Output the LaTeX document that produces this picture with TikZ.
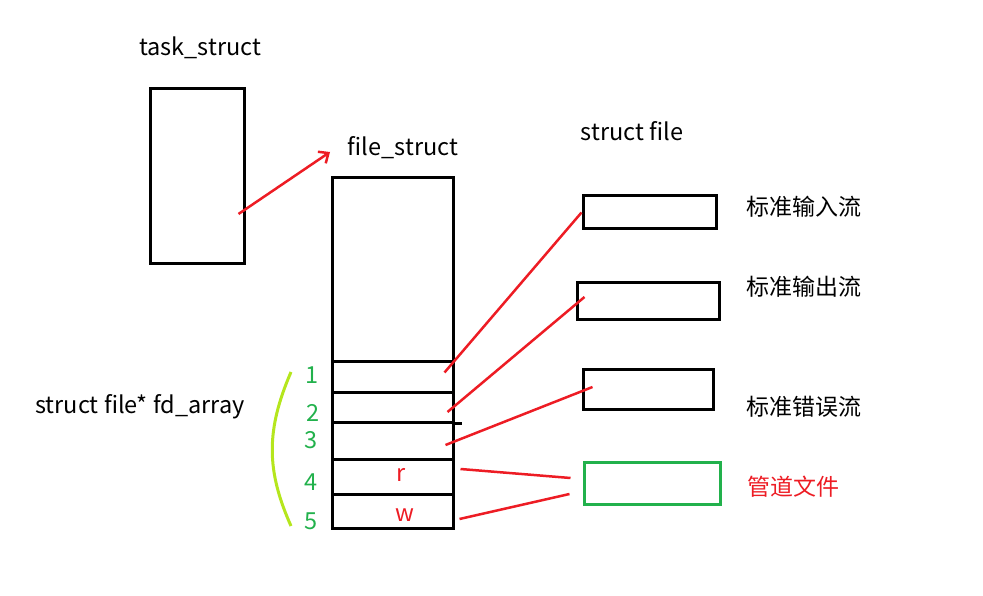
\documentclass[tikz,border=0pt]{standalone}
\usepackage{fontspec}
\setmainfont{Noto Sans CJK SC}
\usepackage{xcolor}
\usetikzlibrary{arrows.meta,positioning,calc}
\definecolor{penred}{RGB}{237,28,36}
\definecolor{pengreen}{RGB}{34,177,76}
\definecolor{penlime}{RGB}{181,230,29}

\begin{document}
\begin{tikzpicture}[
            x=1pt, y=-1pt,
            box/.style={rectangle, draw, line width=3pt, inner sep=0pt},
            slot/.style={box, minimum width=121pt},
            txt/.style={inner sep=0pt, font=\fontsize{23.5}{27}\selectfont},
            cjk/.style={inner sep=0pt, font=\fontsize{23}{27}\selectfont},
            num/.style={txt, text=pengreen},
            redline/.style={penred, line width=2.5pt}
        ]
        \useasboundingbox (0,0) rectangle (983,596);

        % task_struct
        \node[txt] (tasklbl) at (200,48) {task\_struct};
        \node[box, minimum width=94pt, minimum height=175pt] (task) at (197,176.5) {};

        % file_struct with the fd slots
        \node[txt] (fslbl) at (403,148) {file\_struct};
        \node[slot, minimum height=183pt] (fstop) at (392.5,269.5) {};
        \node[slot, minimum height=31pt] (fd1) at (392.5,376.5) {};
        \node[slot, minimum height=30pt] (fd2) at (392.5,407) {};
        \node[slot, minimum height=37pt] (fd3) at (392.5,440.5) {};
        \node[slot, minimum height=35pt] (fd4) at (392.5,476.5) {};
        \node[slot, minimum height=34pt] (fd5) at (392.5,511) {};
        \draw[line width=3pt] (fd2.south east) -- ++(7,0);
        \node[txt, text=penred] (rd) at (401,475) {r};
        \node[txt, text=penred] (wr) at (405,515) {w};

        % fd numbers
        \node[num] (n1) at (312,375) {1};
        \node[num] (n2) at (313,413) {2};
        \node[num] (n3) at (311,440) {3};
        \node[num] (n4) at (311,482) {4};
        \node[num] (n5) at (311,521) {5};
        \draw[penlime, line width=3pt] (291,372) .. controls (266,430) and (266,470) .. (291,526);
        \node[txt] (fdlbl) at (140,407) {struct file* fd\_array};

        % struct file objects
        \node[txt] (sflbl) at (632,131) {struct file};
        \node[box, minimum width=133pt, minimum height=33pt] (sin) at (649.5,212.5) {};
        \node[box, minimum width=142pt, minimum height=36pt] (sout) at (648,301) {};
        \node[box, minimum width=130pt, minimum height=40pt] (serr) at (648,389) {};
        \node[box, draw=pengreen, minimum width=136pt, minimum height=42pt] (pipe) at (652,483) {};
        \node[cjk] (inlbl) at (804,207) {标准输入流};
        \node[cjk] (outlbl) at (804,287) {标准输出流};
        \node[cjk] (errlbl) at (804,407) {标准错误流};
        \node[cjk, text=penred] (pipelbl) at (793,487) {管道文件};

        % pointers
        \coordinate (fsptr) at (330,152);
        \draw[redline, -{Straight Barb[length=8pt, width=14pt]}] ($(task.east)+(-7,37.5)$) -- (fsptr);
        \draw[redline] ($(fd1.east)+(-10,-4)$) -- (sin.west);
        \draw[redline] ($(fd2.east)+(-7,5)$) -- ($(sout.west)+(9,-4)$);
        \draw[redline] ($(fd3.east)+(-9,4.5)$) -- ($(serr.west)+(11,-2)$);
        \draw[redline] ($(fd4.east)+(6,-7.5)$) -- ($(pipe.west)+(-12,-5)$);
        \draw[redline] ($(fd5.east)+(5,8)$) -- ($(pipe.west)+(-13,11)$);

\end{tikzpicture}
\end{document}
